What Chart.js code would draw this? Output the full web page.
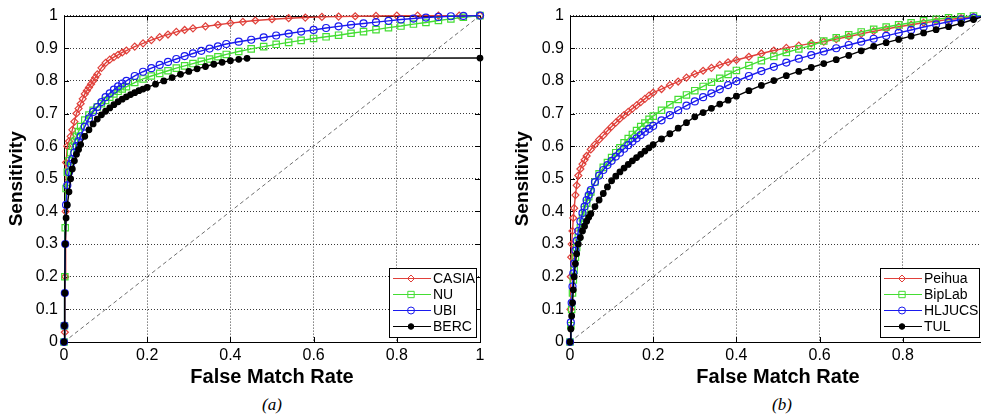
<!DOCTYPE html>
<html lang="en">
<head>
<meta charset="utf-8">
<title>ROC curves</title>
<script src="https://cdn.jsdelivr.net/npm/chart.js"></script>
<style>
  html, body { margin: 0; padding: 0; background: #fff; }
  body { width: 981px; height: 415px; overflow: hidden; position: relative; }
  .panel { position: absolute; top: 0; width: 490px; height: 390px; }
  .caption { position: absolute; top: 395px; width: 60px; line-height: 20px; text-align: center;
             font: italic 17px 'Liberation Serif', 'Times New Roman', serif; }
</style>
</head>
<body>
  <div class="panel" style="left:0"><canvas id="chartA"></canvas></div>
  <div class="panel" style="left:506px"><canvas id="chartB"></canvas></div>
  <div class="caption" style="left:242px">(a)</div>
  <div class="caption" style="left:752px">(b)</div>
<script>
// axis ticks
const xTicks = [0, 0.2, 0.4, 0.6, 0.8, 1];
const xTickLabels = ['0', '0.2', '0.4', '0.6', '0.8', '1'];
const yTicks = [0, 0.1, 0.2, 0.3, 0.4, 0.5, 0.6, 0.7, 0.8, 0.9, 1];
const yTickLabels = ['0', '0.1', '0.2', '0.3', '0.4', '0.5', '0.6', '0.7', '0.8', '0.9', '1'];

// chance line
const diagX = [0, 1];
const diagY = [0, 1];

// (a) CASIA
const casiaX = [0, 0.002, 0.003, 0.004, 0.005, 0.008, 0.012, 0.016, 0.02, 0.025, 0.03, 0.035, 0.04, 0.045, 0.05, 0.055, 0.06, 0.065, 0.07, 0.075, 0.08, 0.09, 0.1, 0.11, 0.12, 0.13, 0.14, 0.15, 0.17, 0.19, 0.21, 0.23, 0.25, 0.27, 0.29, 0.31, 0.34, 0.37, 0.4, 0.43, 0.46, 0.5, 0.54, 0.58, 0.62, 0.66, 0.7, 0.75, 0.8, 0.85, 0.9, 0.95, 1];
const casiaY = [0, 0.03, 0.2, 0.4, 0.55, 0.6, 0.615, 0.63, 0.65, 0.675, 0.7, 0.715, 0.73, 0.745, 0.76, 0.77, 0.78, 0.79, 0.8, 0.81, 0.82, 0.84, 0.855, 0.865, 0.873, 0.88, 0.887, 0.893, 0.905, 0.915, 0.925, 0.934, 0.942, 0.95, 0.956, 0.961, 0.967, 0.972, 0.977, 0.981, 0.985, 0.989, 0.992, 0.994, 0.996, 0.997, 0.998, 0.999, 1, 1, 1, 1, 1];

// (a) NU and UBI share the same FMR points
const nuX = [0, 0.001, 0.002, 0.003, 0.005, 0.008, 0.012, 0.016, 0.02, 0.025, 0.03, 0.035, 0.04, 0.05, 0.06, 0.07, 0.08, 0.09, 0.1, 0.11, 0.12, 0.13, 0.14, 0.15, 0.17, 0.19, 0.21, 0.23, 0.25, 0.27, 0.29, 0.31, 0.33, 0.35, 0.37, 0.39, 0.42, 0.45, 0.48, 0.51, 0.54, 0.57, 0.6, 0.63, 0.66, 0.69, 0.72, 0.75, 0.78, 0.81, 0.84, 0.87, 0.9, 0.93, 0.96, 1];
const nuY = [0, 0.05, 0.2, 0.35, 0.47, 0.52, 0.555, 0.58, 0.6, 0.615, 0.63, 0.645, 0.66, 0.68, 0.695, 0.71, 0.72, 0.73, 0.74, 0.75, 0.76, 0.768, 0.775, 0.782, 0.795, 0.806, 0.815, 0.823, 0.831, 0.839, 0.846, 0.853, 0.86, 0.867, 0.874, 0.881, 0.89, 0.898, 0.905, 0.912, 0.918, 0.924, 0.93, 0.935, 0.94, 0.946, 0.951, 0.957, 0.963, 0.968, 0.974, 0.979, 0.985, 0.99, 0.995, 1];
const ubiX = nuX;
const ubiY = [0, 0.05, 0.15, 0.3, 0.42, 0.48, 0.52, 0.545, 0.56, 0.58, 0.6, 0.615, 0.63, 0.66, 0.685, 0.705, 0.72, 0.735, 0.75, 0.762, 0.773, 0.783, 0.792, 0.8, 0.815, 0.828, 0.839, 0.849, 0.858, 0.867, 0.876, 0.884, 0.892, 0.899, 0.906, 0.913, 0.92, 0.926, 0.933, 0.939, 0.945, 0.951, 0.956, 0.962, 0.967, 0.972, 0.976, 0.98, 0.984, 0.988, 0.991, 0.994, 0.996, 0.998, 0.999, 1];

// (a) BERC
const bercX = [0, 0.001, 0.002, 0.003, 0.005, 0.008, 0.012, 0.016, 0.02, 0.025, 0.03, 0.035, 0.04, 0.05, 0.06, 0.07, 0.08, 0.09, 0.1, 0.11, 0.12, 0.13, 0.14, 0.15, 0.16, 0.17, 0.18, 0.19, 0.2, 0.22, 0.24, 0.26, 0.28, 0.3, 0.32, 0.34, 0.36, 0.38, 0.4, 0.42, 0.44, 1];
const bercY = [0, 0.05, 0.15, 0.3, 0.38, 0.42, 0.46, 0.5, 0.53, 0.555, 0.575, 0.59, 0.605, 0.63, 0.65, 0.668, 0.683, 0.696, 0.707, 0.717, 0.727, 0.736, 0.744, 0.751, 0.758, 0.764, 0.77, 0.775, 0.78, 0.79, 0.8, 0.81, 0.82, 0.829, 0.837, 0.844, 0.851, 0.857, 0.862, 0.866, 0.869, 0.87];

// (b) Peihua
const peihuaX = [0, 0.001, 0.002, 0.003, 0.004, 0.006, 0.008, 0.01, 0.013, 0.016, 0.02, 0.025, 0.03, 0.035, 0.04, 0.05, 0.06, 0.07, 0.08, 0.09, 0.1, 0.11, 0.12, 0.13, 0.14, 0.15, 0.16, 0.17, 0.18, 0.19, 0.2, 0.22, 0.24, 0.26, 0.28, 0.3, 0.32, 0.34, 0.36, 0.38, 0.4, 0.43, 0.46, 0.49, 0.52, 0.55, 0.58, 0.61, 0.64, 0.67, 0.7, 0.73, 0.76, 0.79, 0.82, 0.85, 0.88, 0.91, 0.94, 0.97, 1];
const peihuaY = [0, 0.1, 0.2, 0.26, 0.3, 0.34, 0.38, 0.41, 0.45, 0.48, 0.51, 0.53, 0.545, 0.558, 0.57, 0.59, 0.605, 0.62, 0.633, 0.647, 0.66, 0.672, 0.684, 0.695, 0.705, 0.715, 0.725, 0.735, 0.745, 0.755, 0.764, 0.775, 0.787, 0.798, 0.81, 0.821, 0.831, 0.84, 0.849, 0.857, 0.864, 0.874, 0.884, 0.893, 0.901, 0.908, 0.915, 0.92, 0.928, 0.936, 0.944, 0.952, 0.959, 0.966, 0.972, 0.978, 0.983, 0.988, 0.992, 0.996, 1];

// (b) BipLab, HLJUCS, TUL share the same FMR points
const bX = [0, 0.002, 0.004, 0.006, 0.008, 0.01, 0.013, 0.016, 0.02, 0.025, 0.03, 0.035, 0.04, 0.045, 0.05, 0.06, 0.07, 0.08, 0.09, 0.1, 0.11, 0.12, 0.13, 0.14, 0.15, 0.16, 0.17, 0.18, 0.19, 0.2, 0.22, 0.24, 0.26, 0.28, 0.3, 0.32, 0.34, 0.36, 0.38, 0.4, 0.43, 0.46, 0.49, 0.52, 0.55, 0.58, 0.61, 0.64, 0.67, 0.7, 0.73, 0.76, 0.79, 0.82, 0.85, 0.88, 0.91, 0.94, 0.97, 1];
const biplabY = [0, 0.05, 0.1, 0.15, 0.19, 0.22, 0.26, 0.29, 0.32, 0.35, 0.38, 0.405, 0.425, 0.445, 0.46, 0.49, 0.515, 0.535, 0.55, 0.565, 0.58, 0.595, 0.61, 0.623, 0.636, 0.648, 0.66, 0.671, 0.682, 0.692, 0.71, 0.727, 0.743, 0.757, 0.77, 0.783, 0.796, 0.808, 0.82, 0.832, 0.847, 0.862, 0.875, 0.887, 0.898, 0.908, 0.922, 0.932, 0.941, 0.95, 0.958, 0.965, 0.972, 0.978, 0.984, 0.989, 0.993, 0.996, 0.999, 1];
const hljucsY = [0, 0.06, 0.12, 0.17, 0.21, 0.24, 0.28, 0.31, 0.34, 0.37, 0.395, 0.415, 0.435, 0.45, 0.465, 0.49, 0.51, 0.527, 0.542, 0.555, 0.568, 0.58, 0.592, 0.603, 0.614, 0.624, 0.634, 0.644, 0.653, 0.662, 0.679, 0.695, 0.71, 0.724, 0.737, 0.75, 0.762, 0.774, 0.787, 0.799, 0.815, 0.83, 0.843, 0.856, 0.868, 0.879, 0.89, 0.9, 0.91, 0.92, 0.929, 0.938, 0.947, 0.956, 0.965, 0.973, 0.981, 0.988, 0.994, 1];
const tulY = [0, 0.04, 0.08, 0.12, 0.16, 0.2, 0.24, 0.27, 0.3, 0.32, 0.34, 0.355, 0.37, 0.382, 0.393, 0.415, 0.435, 0.455, 0.475, 0.494, 0.508, 0.521, 0.533, 0.544, 0.555, 0.565, 0.575, 0.585, 0.595, 0.605, 0.622, 0.638, 0.655, 0.672, 0.69, 0.703, 0.716, 0.729, 0.741, 0.753, 0.77, 0.786, 0.801, 0.816, 0.829, 0.841, 0.853, 0.865, 0.878, 0.892, 0.906, 0.917, 0.927, 0.937, 0.947, 0.957, 0.966, 0.976, 0.988, 1];

const RED = '#e0403a', GREEN = '#44dd33', BLUE = '#1a1aee', BLACK = '#000000';
const NONE = 'rgba(0,0,0,0)';
const FONT = "'Liberation Sans', Arial, Helvetica, sans-serif";

Chart.defaults.font.family = FONT;
Chart.defaults.color = '#000';

const pts = (xs, ys) => xs.map((x, i) => ({x: x, y: ys[i]}));

function series(label, xs, ys, color, style, radius, fill, order) {
    return {
        label: label, data: pts(xs, ys), order: order,
        borderColor: color, backgroundColor: fill, borderWidth: 1.4, tension: 0,
        pointStyle: style, pointRadius: radius, pointHoverRadius: radius,
        pointBorderColor: color, pointBackgroundColor: fill, pointBorderWidth: 1.2,
        clip: false
    };
}

function chance() {
    return {
        label: '', data: pts(diagX, diagY), order: 9,
        borderColor: '#6e6e6e', borderWidth: 1, borderDash: [4, 3], pointRadius: 0
    };
}

// black frame with inward ticks, matlab style
const framePlugin = {
    id: 'frame',
    beforeDatasetsDraw(chart) {
        const {ctx, chartArea: a, scales: {x, y}} = chart;
        ctx.save();
        ctx.strokeStyle = '#000';
        ctx.lineWidth = 1;
        ctx.strokeRect(Math.round(a.left) + 0.5, Math.round(a.top) + 0.5, Math.round(a.width), Math.round(a.height));
        ctx.beginPath();
        x.ticks.forEach(t => {
            const px = Math.round(x.getPixelForValue(t.value)) + 0.5;
            ctx.moveTo(px, a.bottom); ctx.lineTo(px, a.bottom - 5);
            ctx.moveTo(px, a.top); ctx.lineTo(px, a.top + 5);
        });
        y.ticks.forEach(t => {
            const py = Math.round(y.getPixelForValue(t.value)) + 0.5;
            ctx.moveTo(a.left, py); ctx.lineTo(a.left + 5, py);
            ctx.moveTo(a.right, py); ctx.lineTo(a.right - 5, py);
        });
        ctx.stroke();
        ctx.restore();
    }
};

// boxed legend in the lower right corner of the plot
const legendBox = {
    id: 'legendBox',
    afterDraw(chart, args, opts) {
        const {ctx, chartArea: a} = chart;
        const items = chart.data.datasets.filter(d => d.label);
        ctx.save();
        ctx.font = '14px ' + FONT;
        const textW = Math.max(...items.map(d => ctx.measureText(d.label).width));
        const rowH = 16;
        const w = Math.round(45 + textW), h = items.length * rowH + 5;
        const right = Math.round(a.right - opts.inset), bottom = Math.round(a.bottom - 5);
        const left = right - w, top = bottom - h;
        ctx.fillStyle = '#fff';
        ctx.fillRect(left, top, w, h);
        ctx.strokeStyle = '#000';
        ctx.lineWidth = 1;
        ctx.strokeRect(left + 0.5, top + 0.5, w, h);
        items.forEach((d, i) => {
            const yy = top + 10 + i * rowH + 0.5;
            ctx.strokeStyle = d.borderColor;
            ctx.beginPath();
            ctx.moveTo(left + 4, yy);
            ctx.lineTo(left + 42, yy);
            ctx.stroke();
            ctx.fillStyle = d.pointBackgroundColor;
            Chart.helpers.drawPoint(ctx, {pointStyle: d.pointStyle, radius: d.pointRadius, borderWidth: 1, rotation: 0}, left + 22, yy);
            ctx.fillStyle = '#000';
            ctx.textBaseline = 'middle';
            ctx.fillText(d.label, left + 44, yy + 1);
        });
        ctx.restore();
    }
};

function makeChart(id, datasets, inset) {
    return new Chart(document.getElementById(id), {
        type: 'line',
        data: {datasets: datasets},
        plugins: [framePlugin, legendBox],
        options: {
            responsive: true,
            maintainAspectRatio: false,
            animation: false,
            layout: {padding: {top: 14, right: 10, left: 0, bottom: 0}},
            plugins: {
                legend: {display: false},
                tooltip: {enabled: false},
                legendBox: {inset: inset}
            },
            scales: {
                x: {
                    type: 'linear', min: 0, max: 1,
                    afterBuildTicks: s => { s.ticks = xTicks.map(v => ({value: v})); },
                    afterFit: s => { s.height = 48; },
                    ticks: {padding: 4, font: {size: 16}, callback: (v, i) => xTickLabels[i], maxRotation: 0},
                    grid: {color: '#3a3a3a', lineWidth: 1, drawTicks: false},
                    border: {display: false, dash: [1, 2]},
                    title: {display: true, text: 'False Match Rate', font: {size: 20, weight: 'bold'}, padding: {top: 0, bottom: 1}}
                },
                y: {
                    type: 'linear', min: 0, max: 1,
                    afterBuildTicks: s => { s.ticks = yTicks.map(v => ({value: v})); },
                    afterFit: s => { s.width = 64; },
                    ticks: {padding: 6, font: {size: 16}, callback: (v, i) => yTickLabels[i]},
                    grid: {color: '#3a3a3a', lineWidth: 1, drawTicks: false},
                    border: {display: false, dash: [1, 2]},
                    title: {display: true, text: 'Sensitivity', font: {size: 19, weight: 'bold'}, padding: {top: 5, bottom: 0}}
                }
            }
        }
    });
}

makeChart('chartA', [
    series('CASIA', casiaX, casiaY, RED, 'rectRot', 3.5, NONE, 4),
    series('NU', nuX, nuY, GREEN, 'rect', 4.5, NONE, 3),
    series('UBI', ubiX, ubiY, BLUE, 'circle', 3.5, NONE, 2),
    series('BERC', bercX, bercY, BLACK, 'circle', 2.8, BLACK, 1),
    chance()
], 4);

makeChart('chartB', [
    series('Peihua', peihuaX, peihuaY, RED, 'rectRot', 3.5, NONE, 4),
    series('BipLab', bX, biplabY, GREEN, 'rect', 4.5, NONE, 3),
    series('HLJUCS', bX, hljucsY, BLUE, 'circle', 3.5, NONE, 2),
    series('TUL', bX, tulY, BLACK, 'circle', 2.8, BLACK, 1),
    chance()
], 7);
</script>
</body>
</html>
